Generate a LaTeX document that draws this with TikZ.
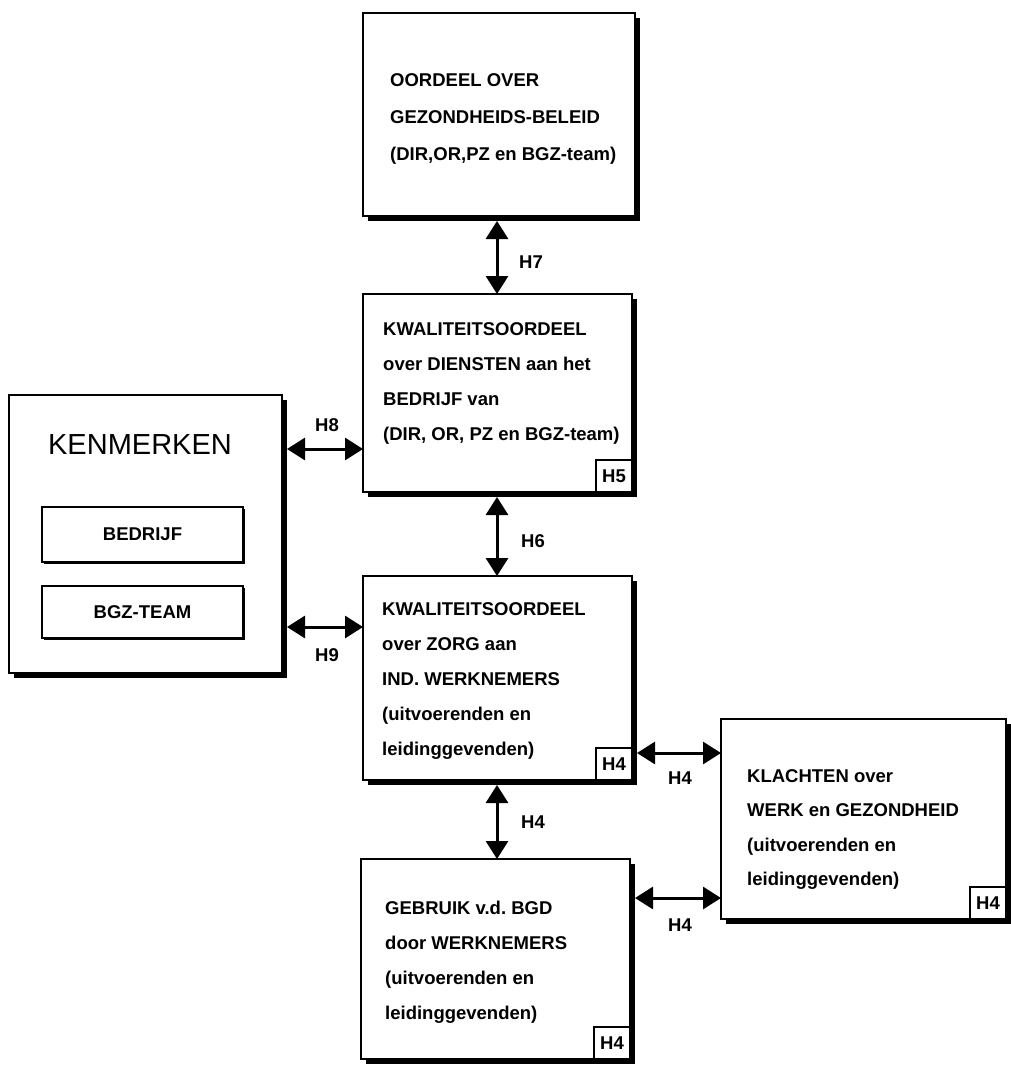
\documentclass[tikz,border=0pt]{standalone}
\usepackage{fontspec}
\setmainfont{Liberation Sans}
\usetikzlibrary{arrows.meta,shadows,calc}
\newcommand\boxlines[1]{\begin{tabular}[t]{@{}l@{}}#1\end{tabular}}
\frenchspacing
\begin{document}
\begin{tikzpicture}[x=1pt,y=-1pt,
  box/.style={draw, line width=2.5pt, fill=white, inner sep=0pt, outer sep=0pt, anchor=north west,
    drop shadow={shadow xshift=5pt,shadow yshift=-5pt,opacity=1,fill=black}},
  inbox/.style={draw, line width=2pt, fill=white, inner sep=0pt, outer sep=0pt,
    minimum width=201pt, font=\bfseries\fontsize{18.5}{20}\selectfont,
    drop shadow={shadow xshift=1.5pt,shadow yshift=-1.5pt,opacity=1,fill=black}},
  badge/.style={draw, line width=2pt, fill=white, inner sep=0pt, outer sep=0pt, anchor=south east,
    minimum width=36pt, minimum height=32pt, font=\bfseries\fontsize{18.5}{20}\selectfont},
  txt/.style={anchor=base west, inner sep=0pt},
  lbl/.style={inner sep=0pt, font=\bfseries\fontsize{18.5}{20}\selectfont},
  dbl/.style={line width=3pt, {Triangle[length=18pt,width=22pt]}-{Triangle[length=18pt,width=22pt]}}
]
\useasboundingbox (0,0) rectangle (1011,1066);

% main boxes
\node[box, minimum width=272pt, minimum height=203pt] (b1) at (363,13) {};
\node[box, minimum width=269pt, minimum height=198pt] (b2) at (363,294) {};
\node[box, minimum width=273pt, minimum height=278pt] (ken) at (9,395) {};
\node[box, minimum width=269pt, minimum height=204pt] (b4) at (363,576) {};
\node[box, minimum width=269pt, minimum height=200pt] (b6) at (361,859) {};
\node[box, minimum width=285pt, minimum height=200pt] (b5) at (721,719) {};

% KENMERKEN content
\node[inner sep=0pt, font=\fontsize{29}{31}\selectfont] (kt) at (140,445) {KENMERKEN};
\node[inbox, minimum height=55pt] (bed) at (142.5,534.5) {BEDRIJF};
\node[inbox, minimum height=52pt] (bgz) at (142.5,612) {BGZ-TEAM};

% badges
\node[badge] (g2) at (b2.south east) {H5};
\node[badge] (g4) at (b4.south east) {H4};
\node[badge] (g6) at (b6.south east) {H4};
\node[badge] (g5) at (b5.south east) {H4};

% texts
\node[txt, font=\bfseries\fontsize{18.5}{37}\selectfont] (t1) at (390,86)
  {\boxlines{OORDEEL OVER\\GEZONDHEIDS-BELEID\\(DIR,OR,PZ en BGZ-team)}};
\node[txt, font=\bfseries\fontsize{18.5}{35}\selectfont] (t2) at (383,335)
  {\boxlines{KWALITEITSOORDEEL\\over DIENSTEN aan het\\BEDRIJF van\\(DIR, OR, PZ en BGZ-team)}};
\node[txt, font=\bfseries\fontsize{18.5}{35}\selectfont] (t4) at (382,615)
  {\boxlines{KWALITEITSOORDEEL\\over ZORG aan\\IND. WERKNEMERS\\(uitvoerenden en\\leidinggevenden)}};
\node[txt, font=\bfseries\fontsize{18.5}{35}\selectfont] (t6) at (385,914)
  {\boxlines{GEBRUIK v.d. BGD\\door WERKNEMERS\\(uitvoerenden en\\leidinggevenden)}};
\node[txt, font=\bfseries\fontsize{18.5}{34.5}\selectfont] (t5) at (747,782)
  {\boxlines{KLACHTEN over\\WERK en GEZONDHEID\\(uitvoerenden en\\leidinggevenden)}};

% connectors
\coordinate (ax) at (497,0);
\coordinate (y8) at (0,449);
\coordinate (y9) at (0,627);
\coordinate (ya) at (0,753);
\coordinate (yb) at (0,898);
\draw[dbl] ($(b1.south -| ax)+(0,5)$) -- (b2.north -| ax);
\draw[dbl] ($(b2.south -| ax)+(0,5)$) -- (b4.north -| ax);
\draw[dbl] ($(b4.south -| ax)+(0,5)$) -- (b6.north -| ax);
\draw[dbl] ($(ken.east |- y8)+(5,0)$) -- (b2.west |- y8);
\draw[dbl] ($(ken.east |- y9)+(5,0)$) -- (b4.west |- y9);
\draw[dbl] ($(b4.east |- ya)+(5,0)$) -- (b5.west |- ya);
\draw[dbl] ($(b6.east |- yb)+(5,0)$) -- (b5.west |- yb);

% connector labels
\node[lbl] (l7) at (531,262) {H7};
\node[lbl] (l6) at (533,541) {H6};
\node[lbl] (l4v) at (533,822) {H4};
\node[lbl] (l8) at (327,425) {H8};
\node[lbl] (l9) at (327,655) {H9};
\node[lbl] (l4a) at (680,778) {H4};
\node[lbl] (l4b) at (680,925) {H4};
\end{tikzpicture}
\end{document}
